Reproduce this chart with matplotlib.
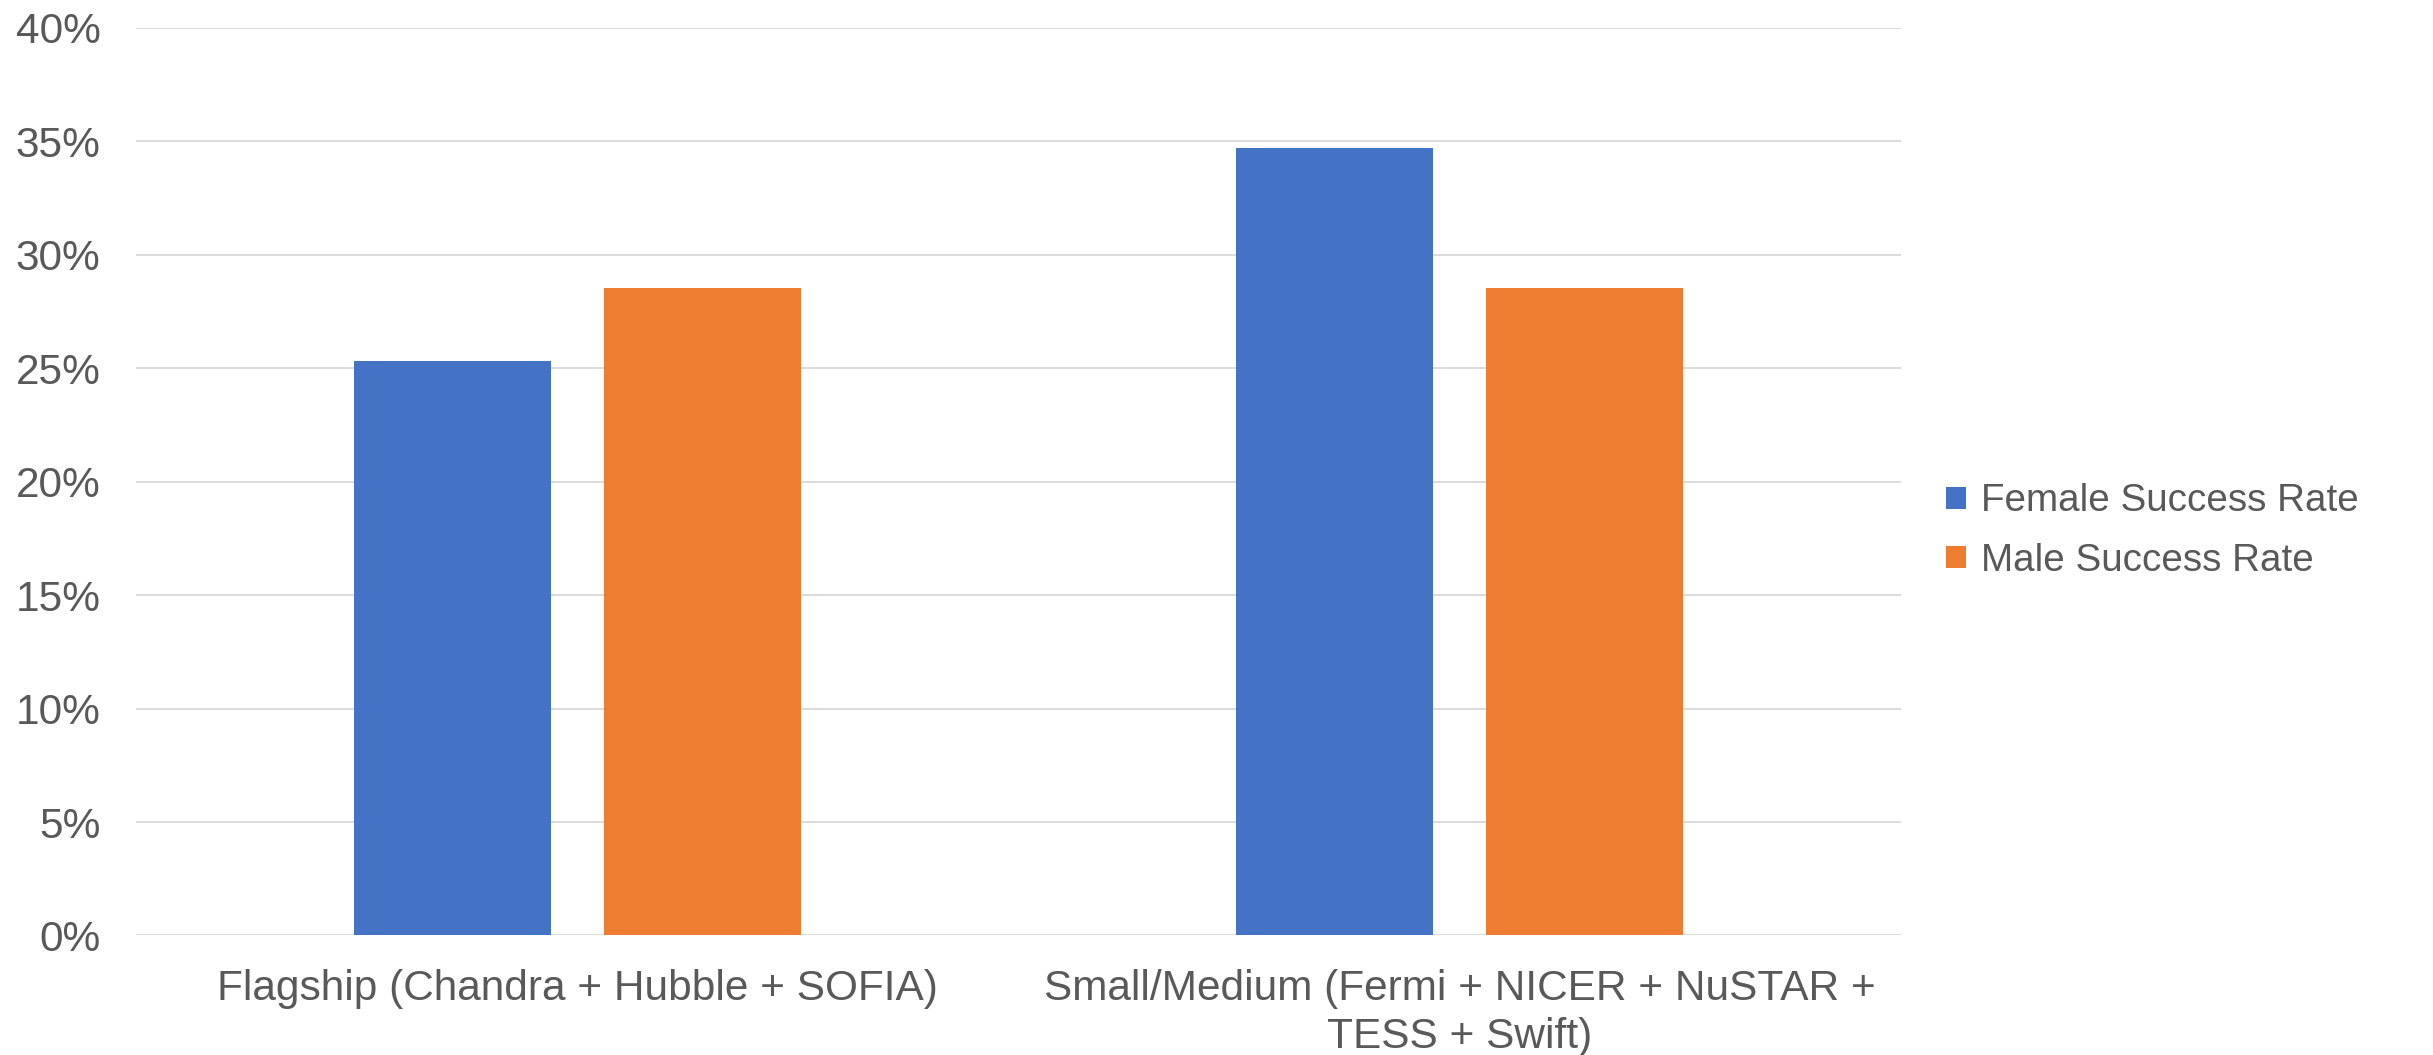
import matplotlib
matplotlib.use("Agg")
import matplotlib.pyplot as plt
from matplotlib.patches import Patch
import numpy as np

# Proposal success rates by mission class
categories = [
    "Flagship (Chandra + Hubble + SOFIA)",
    "Small/Medium (Fermi + NICER + NuSTAR +\nTESS + Swift)",
]
series_names = ["Female Success Rate", "Male Success Rate"]
female_rate = [0.253, 0.347]
male_rate = [0.2855, 0.2855]
y_ticks = [0.0, 0.05, 0.10, 0.15, 0.20, 0.25, 0.30, 0.35, 0.40]

colors = ["#4472C4", "#ED7D31"]
text_color = "#595959"
grid_color = "#D9D9D9"
tick_fs = 30.5
legend_fs = 27.8

plt.rcParams["font.family"] = ["Liberation Sans", "DejaVu Sans"]

fig = plt.figure(figsize=(24.33, 10.55), dpi=100)
ax = fig.add_axes([0.0561, 0.1133, 0.7252, 0.8602])

x = np.arange(len(categories))
bar_w = 0.2234
offset = (bar_w + 0.0598) / 2
ax.bar(x - offset, female_rate, width=bar_w, color=colors[0], zorder=3)
ax.bar(x + offset, male_rate, width=bar_w, color=colors[1], zorder=3)

ax.set_xlim(-0.5, len(categories) - 0.5)
ax.set_ylim(0, 0.40)
ax.set_yticks(y_ticks)
ax.set_yticklabels([f"{int(round(t * 100))}%" for t in y_ticks])
ax.set_xticks(x)
ax.set_xticklabels(categories, linespacing=1.28)

ax.grid(axis="y", color=grid_color, linewidth=1.3, zorder=0)
ax.set_axisbelow(True)
for s in ax.spines.values():
    s.set_visible(False)
ax.tick_params(axis="y", length=0, pad=26, labelsize=tick_fs, labelcolor=text_color)
ax.tick_params(axis="x", length=0, pad=24, labelsize=tick_fs, labelcolor=text_color)

handles = [Patch(facecolor=c, edgecolor="none") for c in colors]
fig.legend(handles, series_names, loc="center left",
           bbox_to_anchor=(0.800, 0.4967), frameon=False, fontsize=legend_fs,
           labelcolor=text_color, handlelength=0.5, handleheight=0.5,
           handletextpad=0.4, labelspacing=0.6, borderpad=0, borderaxespad=0)

fig.savefig("out.png", dpi=100, facecolor="white")
